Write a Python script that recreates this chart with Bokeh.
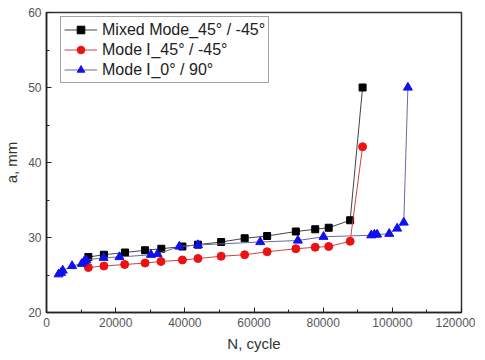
from bokeh.plotting import figure
from bokeh.models import Range1d, SingleIntervalTicker, Legend, LegendItem, ColumnDataSource, BasicTickFormatter
from bokeh.embed import file_html
from bokeh.resources import INLINE

# Data
mixed_n = [12100, 16600, 22700, 28500, 33200, 39300, 43800, 50500, 57300, 63800, 72100, 77700, 81600, 87800, 91400]
mixed_a = [27.4, 27.7, 28.0, 28.3, 28.5, 28.8, 29.05, 29.4, 29.9, 30.2, 30.8, 31.1, 31.3, 32.3, 50.0]

mode1_45_n = [12100, 16600, 22600, 28500, 33100, 39300, 43800, 50500, 57300, 63800, 72100, 77700, 81600, 87800, 91400]
mode1_45_a = [26.0, 26.2, 26.4, 26.6, 26.8, 27.0, 27.2, 27.5, 27.7, 28.1, 28.5, 28.7, 28.8, 29.5, 42.1]

mode1_0_n = [3500, 4200, 4700, 7400, 10200, 10900, 11500, 16500, 21100, 30200, 32100, 38400, 43800,
             61800, 72700, 80100, 93900, 94800, 95600, 99100, 101400, 103300, 104500]
mode1_0_a = [25.1, 25.3, 25.6, 26.2, 26.5, 26.8, 27.0, 27.3, 27.4, 27.7, 27.8, 28.8, 29.0,
             29.4, 29.6, 30.1, 30.3, 30.4, 30.4, 30.5, 31.2, 32.0, 50.0]

labels = ["Mixed Mode_45\u00b0 / -45\u00b0", "Mode \u2160_45\u00b0 / -45\u00b0", "Mode \u2160_0\u00b0 / 90\u00b0"]

FONT = "Liberation Sans"

p = figure(frame_width=415, frame_height=300, output_backend="svg", toolbar_location=None,
           x_range=Range1d(0, 120000), y_range=Range1d(20, 60),
           min_border_left=40, min_border_right=14, min_border_top=12, min_border_bottom=39)
p.background_fill_color = "white"
p.border_fill_color = "white"
p.outline_line_color = "#333333"
p.outline_line_width = 1.5
p.xgrid.visible = False
p.ygrid.visible = False

p.xaxis.ticker = SingleIntervalTicker(interval=20000, num_minor_ticks=2)
p.yaxis.ticker = SingleIntervalTicker(interval=10, num_minor_ticks=2)
p.xaxis.formatter = BasicTickFormatter(use_scientific=False)
for ax in (p.xaxis, p.yaxis):
    ax.axis_line_width = 1.5
    ax.axis_line_color = "#222222"
    ax.major_tick_in = 5
    ax.major_tick_out = 0
    ax.minor_tick_in = 3
    ax.minor_tick_out = 0
    ax.major_tick_line_color = "#222222"
    ax.minor_tick_line_color = "#222222"
    ax.major_label_text_font = FONT
    ax.major_label_text_font_size = "12px"
    ax.major_label_text_color = "#555555"
    ax.axis_label_text_font = FONT
    ax.axis_label_text_font_size = "15px"
    ax.axis_label_text_font_style = "normal"
    ax.axis_label_text_color = "#333333"
    ax.major_label_standoff = 5
    ax.axis_label_standoff = 5
p.xaxis.axis_label = "N, cycle"
p.yaxis.axis_label = "a, mm"

s1 = ColumnDataSource(dict(x=mixed_n, y=mixed_a))
s2 = ColumnDataSource(dict(x=mode1_45_n, y=mode1_45_a))
s3 = ColumnDataSource(dict(x=mode1_0_n, y=mode1_0_a))

l1 = p.line("x", "y", source=s1, line_color="#444444", line_width=1)
m1 = p.scatter("x", "y", source=s1, marker="square", size=7, fill_color="black", line_color="black")
l2 = p.line("x", "y", source=s2, line_color="#cc4444", line_width=1)
m2 = p.scatter("x", "y", source=s2, marker="circle", size=8, fill_color="#ee1111", line_color="#ee1111")
l3 = p.line("x", "y", source=s3, line_color="#6868a8", line_width=1)
m3 = p.scatter("x", "y", source=s3, marker="triangle", size=9, fill_color="#1010ee", line_color="#1010ee")

legend = Legend(items=[LegendItem(label=labels[0], renderers=[l1, m1]),
                       LegendItem(label=labels[1], renderers=[l2, m2]),
                       LegendItem(label=labels[2], renderers=[l3, m3])],
                location=(14, 229), orientation="vertical")
legend.label_text_font = FONT
legend.label_text_font_size = "16px"
legend.label_text_color = "#222222"
legend.glyph_width = 33
legend.glyph_height = 19
legend.label_height = 19
legend.spacing = 1
legend.padding = 3
legend.margin = 0
legend.label_standoff = 5
legend.border_line_color = "#444444"
legend.border_line_width = 1
legend.background_fill_alpha = 1
p.add_layout(legend)

open("out.html", "w").write(file_html(p, INLINE))
